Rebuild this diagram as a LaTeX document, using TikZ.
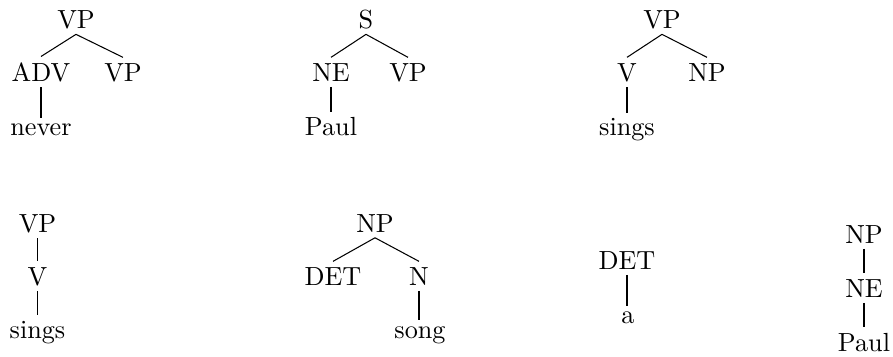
\documentclass[tikz,border=0pt]{standalone}
\begin{document}
\begin{tikzpicture}[x=0.3817pt,y=-0.3817pt,
  tn/.style={anchor=base,inner xsep=1pt,inner ysep=2pt},
  br/.style={draw=black,line width=0.4pt}]
\useasboundingbox (0,0) rectangle (893,356);
% tree 1
\node[tn] (a1) at (76,28) {VP};
\node[tn] (a2) at (41,81) {ADV};
\node[tn] (a3) at (123,81) {VP};
\node[tn] (a4) at (41,135.5) {never};
\draw[br] (a1.south) -- (a2.north);
\draw[br] (a1.south) -- (a3.north);
\draw[br] (a2.south) -- (a4.north);
% tree 2
\node[tn] (b1) at (366,28) {S};
\node[tn] (b2) at (331,81) {NE};
\node[tn] (b3) at (408,81) {VP};
\node[tn] (b4) at (331,135.5) {Paul};
\draw[br] (b1.south) -- (b2.north);
\draw[br] (b1.south) -- (b3.north);
\draw[br] (b2.south) -- (b4.north);
% tree 3
\node[tn] (c1) at (662,28) {VP};
\node[tn] (c2) at (627,81) {V};
\node[tn] (c3) at (707,81) {NP};
\node[tn] (c4) at (627,135.5) {sings};
\draw[br] (c1.south) -- (c2.north);
\draw[br] (c1.south) -- (c3.north);
\draw[br] (c2.south) -- (c4.north);
% tree 4
\node[tn] (d1) at (37.5,232) {VP};
\node[tn] (d2) at (37.5,285) {V};
\node[tn] (d3) at (37.5,338) {sings};
\draw[br] (d1.south) -- (d2.north);
\draw[br] (d2.south) -- (d3.north);
% tree 5
\node[tn] (e1) at (375,232) {NP};
\node[tn] (e2) at (333,285) {DET};
\node[tn] (e3) at (419,285) {N};
\node[tn] (e4) at (420,338) {song};
\draw[br] (e1.south) -- (e2.north);
\draw[br] (e1.south) -- (e3.north);
\draw[br] (e3.south) -- (e3.south |- e4.north);
% tree 6
\node[tn] (f1) at (627,269) {DET};
\node[tn] (f2) at (628,323) {a};
\draw[br] (f1.south) -- (f1.south |- f2.north);
% tree 7
\node[tn] (g1) at (864,243) {NP};
\node[tn] (g2) at (864,297) {NE};
\node[tn] (g3) at (864,351) {Paul};
\draw[br] (g1.south) -- (g2.north);
\draw[br] (g2.south) -- (g3.north);
\end{tikzpicture}
\end{document}
